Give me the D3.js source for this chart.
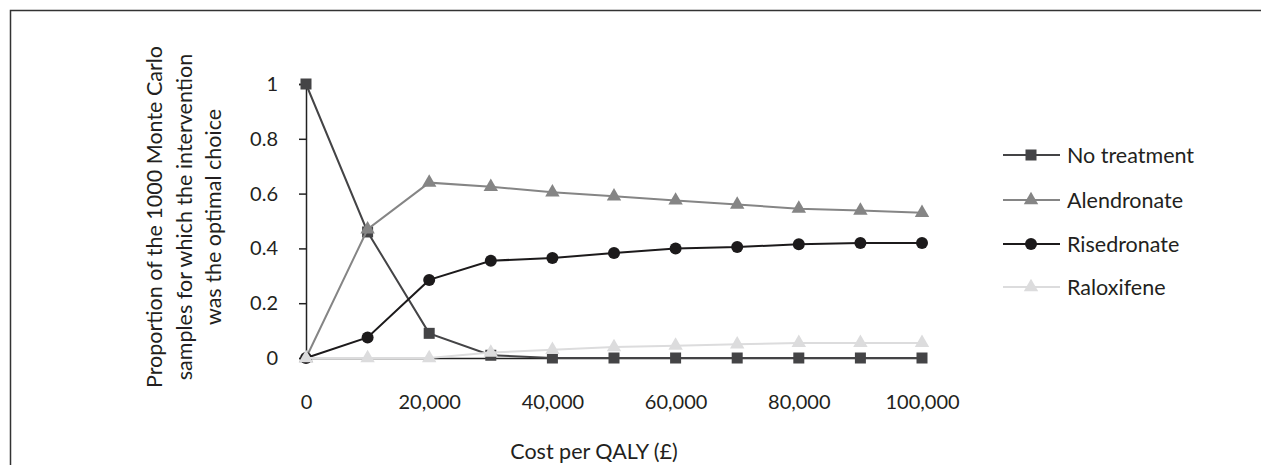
<!DOCTYPE html>
<html>
<head>
<meta charset="utf-8">
<script src="https://cdn.jsdelivr.net/npm/d3@7"></script>
<style>
  html, body { margin: 0; padding: 0; background: #fff; }
  svg { display: block; font-family: Lato, "Open Sans", sans-serif; }
</style>
</head>
<body>
<svg id="chart" width="1261" height="465"></svg>
<script>
// Willingness-to-pay thresholds (cost per QALY, £)
const thresholds = [0, 10000, 20000, 30000, 40000, 50000, 60000, 70000, 80000, 90000, 100000];

// Proportion of Monte Carlo samples in which each option was optimal
const noTreatment = [1.0, 0.46, 0.09, 0.01, 0, 0, 0, 0, 0, 0, 0];
const alendronate = [0, 0.47, 0.64, 0.625, 0.605, 0.59, 0.575, 0.56, 0.545, 0.538, 0.53];
const risedronate = [0, 0.075, 0.285, 0.355, 0.365, 0.383, 0.40, 0.405, 0.415, 0.42, 0.42];
const raloxifene  = [0, 0, 0, 0.02, 0.03, 0.04, 0.045, 0.05, 0.055, 0.055, 0.055];

const seriesNames = ["No treatment", "Alendronate", "Risedronate", "Raloxifene"];
const xTicks = [0, 20000, 40000, 60000, 80000, 100000];
const yTicks = [0, 0.2, 0.4, 0.6, 0.8, 1];
const yTickLabels = ["0", "0.2", "0.4", "0.6", "0.8", "1"];

const series = [
  { name: seriesNames[0], values: noTreatment, color: "#444446", shape: "square" },
  { name: seriesNames[1], values: alendronate, color: "#858585", shape: "triangle" },
  { name: seriesNames[2], values: risedronate, color: "#1c1a1b", shape: "circle" },
  { name: seriesNames[3], values: raloxifene,  color: "#dcdcdd", shape: "triangle" }
];

const svg = d3.select("#chart");

// frame around the figure
svg.append("path")
  .attr("d", "M10.5,465 V10.5 H1261")
  .attr("fill", "none").attr("stroke", "#333").attr("stroke-width", 1.5);

const x = d3.scaleLinear().domain([0, 100000]).range([306, 922]);
const y = d3.scaleLinear().domain([0, 1]).range([358, 84]);

const textSize = 21.5;
const tickSize = 20;
const textColor = "#231f20";
const axisColor = "#222";

// y axis
const yAxis = svg.append("g")
  .attr("transform", `translate(${x(0)},0)`)
  .call(d3.axisLeft(y).tickValues(yTicks).tickSize(7).tickPadding(21)
    .tickFormat((d, i) => yTickLabels[i]));
yAxis.select(".domain").attr("stroke", axisColor).attr("stroke-width", 1.5);
yAxis.selectAll(".tick line").attr("stroke", axisColor).attr("stroke-width", 1.5);
yAxis.selectAll(".tick text")
  .attr("font-family", "Lato, sans-serif").attr("font-size", tickSize)
  .attr("fill", textColor);

// x axis
const xAxis = svg.append("g")
  .attr("transform", `translate(0,${y(0)})`)
  .call(d3.axisBottom(x).tickValues(xTicks).tickSize(4).tickSizeOuter(0)
    .tickFormat(d3.format(",")));
xAxis.select(".domain").attr("stroke", axisColor).attr("stroke-width", 1.5);
xAxis.selectAll(".tick line").attr("stroke", axisColor).attr("stroke-width", 1.5);
xAxis.selectAll(".tick text")
  .attr("font-family", "Lato, sans-serif").attr("font-size", tickSize)
  .attr("fill", textColor).attr("dy", "0").attr("y", 51);

// axis titles
svg.append("text")
  .attr("x", 594).attr("y", 459)
  .attr("text-anchor", "middle")
  .attr("font-size", textSize).attr("fill", textColor)
  .text("Cost per QALY (£)");

const yTitleLines = [
  "Proportion of the 1000 Monte Carlo",
  "samples for which the intervention",
  "was the optimal choice"
];
const yTitle = svg.append("text")
  .attr("transform", "translate(0,217) rotate(-90)")
  .attr("text-anchor", "middle")
  .attr("font-size", textSize).attr("fill", textColor);
yTitleLines.forEach((t, i) => {
  yTitle.append("tspan").attr("x", 0).attr("y", 162 + i * 29.5).text(t);
});

// markers
function drawMarker(g, shape, cx, cy, color) {
  if (shape === "square") {
    g.append("rect").attr("x", cx - 5.5).attr("y", cy - 5.5)
      .attr("width", 11).attr("height", 11).attr("fill", color);
  } else if (shape === "circle") {
    g.append("circle").attr("cx", cx).attr("cy", cy).attr("r", 6).attr("fill", color);
  } else {
    g.append("path")
      .attr("d", d3.symbol().type(d3.symbolTriangle).size(90)())
      .attr("transform", `translate(${cx},${cy})`)
      .attr("fill", color);
  }
}

const line = d3.line().x((d, i) => x(thresholds[i])).y(d => y(d));

series.forEach(s => {
  const g = svg.append("g");
  g.append("path").datum(s.values)
    .attr("d", line).attr("fill", "none")
    .attr("stroke", s.color).attr("stroke-width", 2);
  s.values.forEach((v, i) => drawMarker(g, s.shape, x(thresholds[i]), y(v), s.color));
});

// legend
const legendY = [155, 200, 244, 287];
series.forEach((s, i) => {
  const g = svg.append("g").attr("transform", `translate(0,${legendY[i]})`);
  g.append("line").attr("x1", 1003).attr("x2", 1060).attr("y1", 0).attr("y2", 0)
    .attr("stroke", s.color).attr("stroke-width", 2);
  drawMarker(g, s.shape, 1031, 0, s.color);
  g.append("text").attr("x", 1067).attr("y", 0).attr("dy", "0.35em")
    .attr("font-size", textSize).attr("fill", textColor).text(s.name);
});
</script>
</body>
</html>
